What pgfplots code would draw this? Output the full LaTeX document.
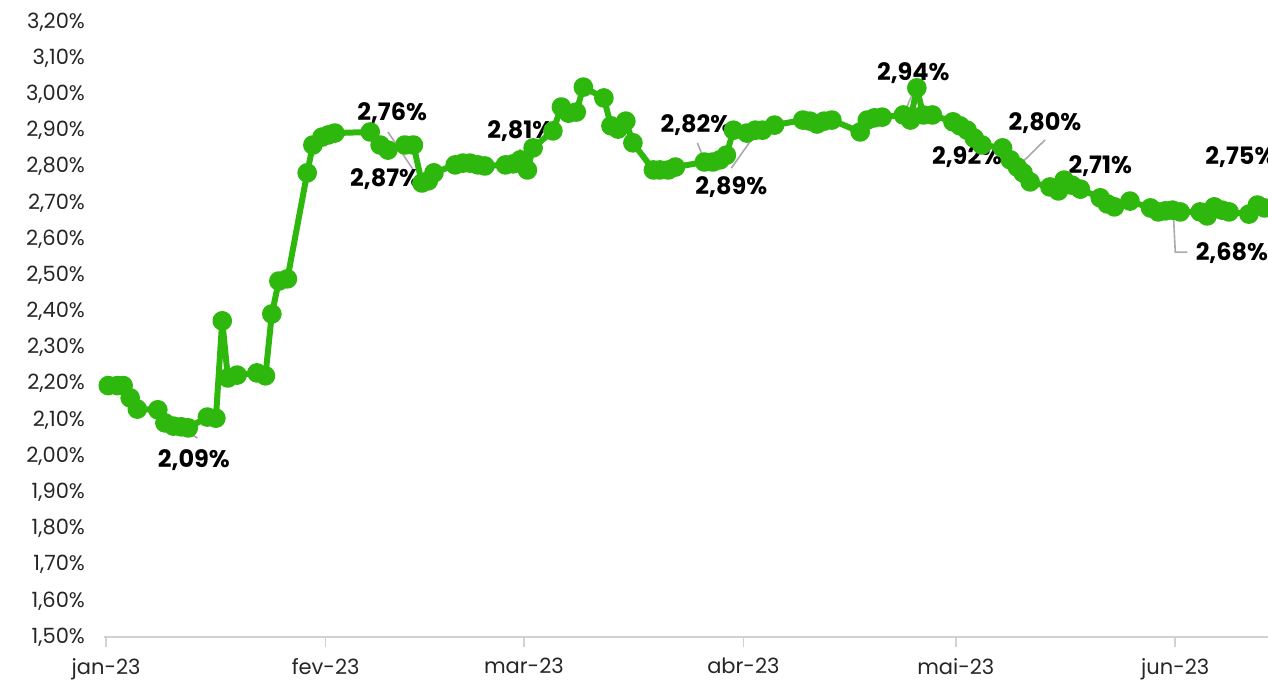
\documentclass[border=0pt]{standalone}
\usepackage{fontspec}
\setmainfont{Poppins}
\usepackage{pgfplots}
\pgfplotsset{compat=1.18}
\definecolor{linegreen}{RGB}{46,184,14}
\definecolor{leader}{RGB}{170,170,170}

\begin{document}
\begin{tikzpicture}
\useasboundingbox (0,0) rectangle (634pt,340.5pt);
\clip (0,0) rectangle (634pt,340.5pt);
\begin{axis}[
    at={(52pt,22pt)}, anchor=south west,
    scale only axis,
    width=585.2pt, height=307.5pt,
    xmin=-0.3, xmax=165,
    ymin=1.5, ymax=3.2,
    clip=false,
    axis x line*=bottom,
    axis y line*=left,
    y axis line style={draw=none},
    x axis line style={draw=black!18, line width=1pt},
    ytick={1.5,1.6,...,3.21},
    ytick style={draw=none},
    xtick={0,31,59,90,120,151},
    xticklabels={jan-23,fev-23,mar-23,abr-23,mai-23,jun-23},
    xtick align=outside,
    xtick style={draw=black!18, line width=0.8pt},
    major tick length=5pt,
    /pgf/number format/assume math mode=true,
    yticklabel={\pgfmathprintnumber[fixed,fixed zerofill,precision=2,use comma]{\tick}\%},
    ticklabel style={font=\fontsize{10.5}{12}\selectfont, text=black!85},
    yticklabel style={xshift=-6pt},
    xticklabel style={yshift=-2pt},
]
\addplot[color=linegreen, line width=3pt, line join=round, mark=*, mark size=3.4pt,
         mark options={fill=linegreen, draw=none}] coordinates {
(0.3,2.195) (1.6,2.195) (2.4,2.195) (3.4,2.161) (4.4,2.130)
(7.3,2.128) (8.3,2.092) (9.5,2.083) (10.6,2.081) (11.6,2.078)
(14.3,2.108) (15.5,2.105) (16.4,2.374) (17.2,2.216) (18.5,2.224)
(21.3,2.230) (22.5,2.222) (23.4,2.393) (24.4,2.484) (25.6,2.490)
(28.4,2.783) (29.2,2.860) (30.5,2.882) (31.4,2.888) (32.3,2.893)
(37.3,2.896) (38.7,2.860) (39.8,2.846) (42.2,2.860) (43.4,2.860)
(44.6,2.755) (45.5,2.761) (46.3,2.783) (49.3,2.805) (50.4,2.810)
(51.4,2.810) (52.5,2.805) (53.5,2.802) (56.4,2.805) (57.5,2.808)
(58.5,2.819) (59.5,2.791) (60.3,2.852) (63.1,2.899) (64.3,2.965)
(65.3,2.948) (66.4,2.951) (67.4,3.020) (70.3,2.990) (71.3,2.913)
(72.3,2.904) (73.4,2.926) (74.4,2.866) (77.3,2.791) (78.2,2.791)
(79.4,2.791) (80.4,2.799) (84.5,2.813) (85.7,2.813) (86.7,2.819)
(87.6,2.832) (88.6,2.901) (90.5,2.893) (91.7,2.901) (92.7,2.901)
(94.4,2.915) (98.4,2.929) (99.4,2.926) (100.4,2.918) (101.4,2.926)
(102.5,2.929) (106.5,2.896) (107.5,2.929) (108.5,2.935) (109.6,2.937)
(112.6,2.943) (113.6,2.929) (114.5,3.018) (115.4,2.943) (116.7,2.943)
(119.6,2.924) (120.6,2.913) (121.6,2.901) (122.6,2.879) (123.7,2.860)
(126.6,2.852) (127.7,2.819) (128.7,2.799) (129.5,2.783) (130.5,2.758)
(133.3,2.744) (134.5,2.733) (135.3,2.763) (136.4,2.749) (137.6,2.738)
(140.4,2.714) (141.4,2.697) (142.4,2.689) (144.6,2.705) (147.5,2.686)
(148.6,2.675) (149.6,2.678) (150.6,2.680) (151.7,2.675) (154.5,2.675)
(155.5,2.664) (156.5,2.689) (157.6,2.680) (158.6,2.675) (161.4,2.669)
(162.6,2.694) (163.6,2.686)
};
% leader lines
\draw[leader, line width=0.8pt] (axis cs:8.3,2.105) -- (axis cs:12.9,2.050);
\draw[leader, line width=0.8pt] (axis cs:39.8,2.896) -- (axis cs:43.4,2.791);
\draw[leader, line width=0.8pt] (axis cs:38.4,2.866) -- (axis cs:39.7,2.821);
\draw[leader, line width=0.8pt] (axis cs:58.5,2.849) -- (axis cs:57.5,2.805);
\draw[leader, line width=0.8pt] (axis cs:83.5,2.866) -- (axis cs:84.6,2.813);
\draw[leader, line width=0.8pt] (axis cs:91.4,2.882) -- (axis cs:88.3,2.796);
\draw[leader, line width=0.8pt] (axis cs:114.0,3.007) -- (axis cs:112.6,2.943);
\draw[leader, line width=0.8pt] (axis cs:119.6,2.921) -- (axis cs:121.5,2.879);
\draw[leader, line width=0.8pt] (axis cs:132.6,2.874) -- (axis cs:128.7,2.799);
\draw[leader, line width=0.8pt] (axis cs:150.7,2.680) -- (axis cs:151.0,2.564) -- (axis cs:152.7,2.564);
% labels
\tikzset{lab/.style={font=\bfseries\fontsize{12}{14}\selectfont, text=black, inner sep=0pt}}
\node[lab] at (axis cs:12.4,1.989) {2,09\%};
\node[lab] at (axis cs:40.4,2.948) {2,76\%};
\node[lab] at (axis cs:39.4,2.766) {2,87\%};
\node[lab] at (axis cs:58.5,2.899) {2,81\%};
\node[lab] at (axis cs:83.3,2.915) {2,82\%};
\node[lab] at (axis cs:88.3,2.744) {2,89\%};
\node[lab] at (axis cs:114.0,3.059) {2,94\%};
\node[lab] at (axis cs:121.6,2.827) {2,92\%};
\node[lab] at (axis cs:132.6,2.921) {2,80\%};
\node[lab] at (axis cs:140.4,2.802) {2,71\%};
\node[lab] at (axis cs:160.2,2.827) {2,75\%};
\node[lab] at (axis cs:159.0,2.562) {2,68\%};
\end{axis}
\end{tikzpicture}
\end{document}
